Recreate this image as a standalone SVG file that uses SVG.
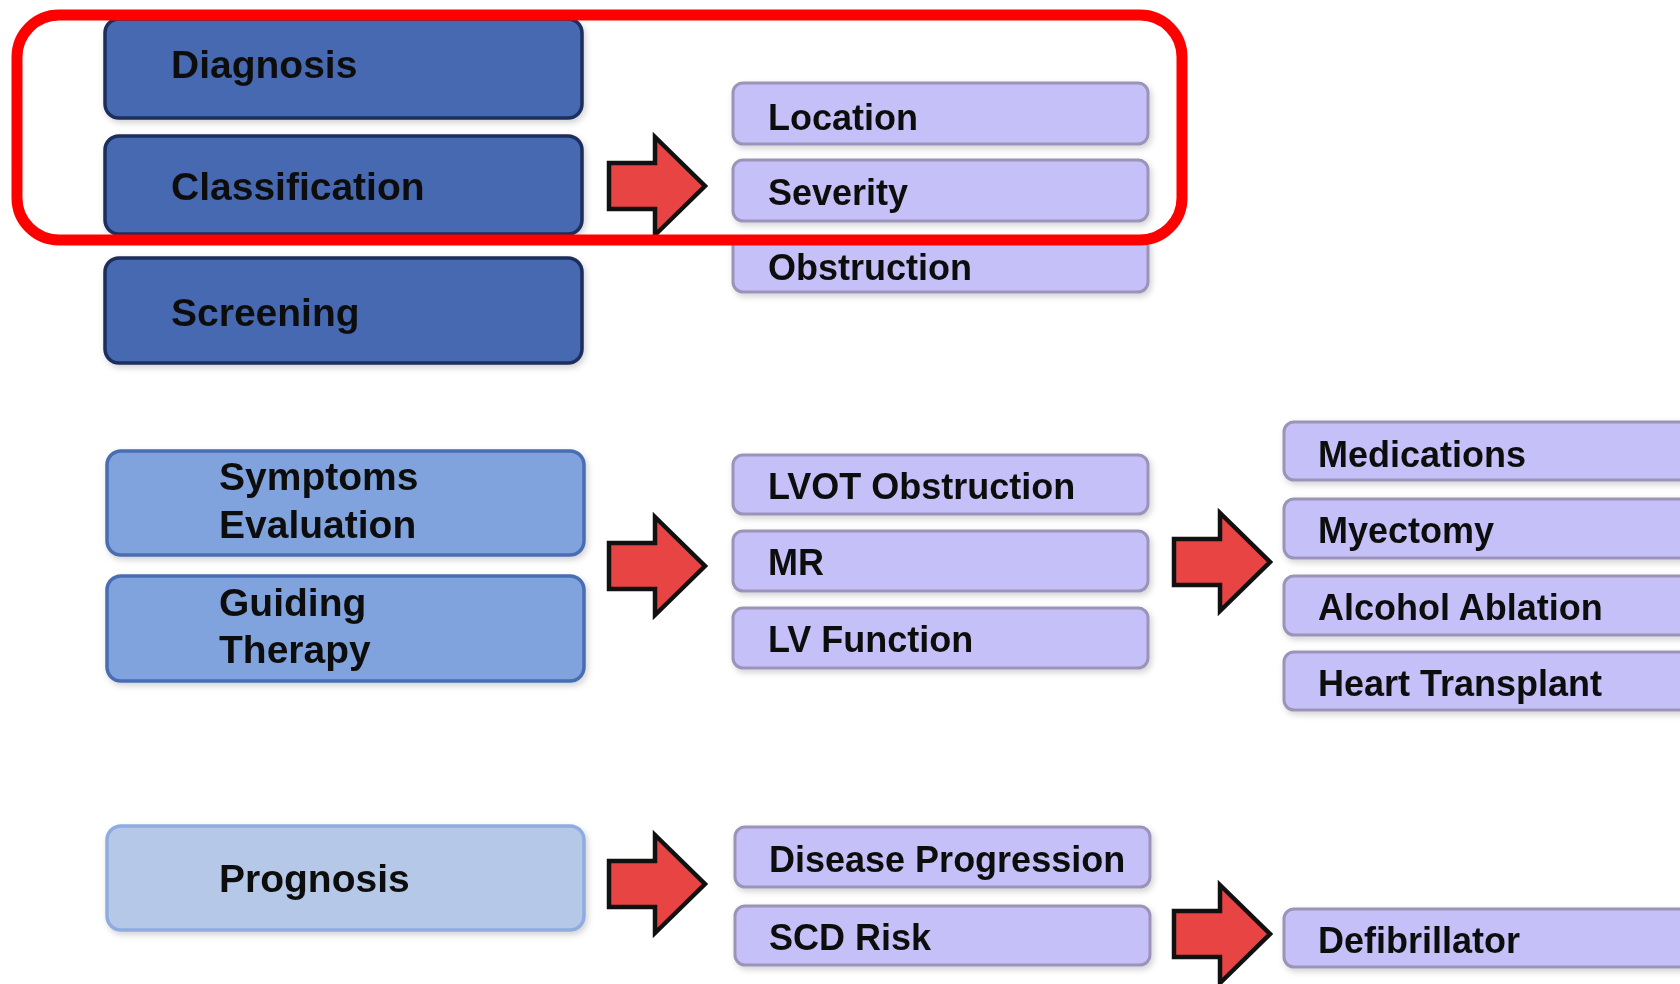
<svg xmlns="http://www.w3.org/2000/svg" width="1680" height="984" viewBox="0 0 1680 984">
<defs>
<style>
.t{font-family:"Liberation Sans",Arial,sans-serif;font-weight:bold;fill:#111;}
.big{font-size:39px;}
.sm{font-size:36px;}
.dark{fill:#4669b1;stroke:#1d2f5c;stroke-width:3.5;}
.mid{fill:#80a3dd;stroke:#4a6db3;stroke-width:3.5;}
.light{fill:#b6c8e7;stroke:#8eace0;stroke-width:3.5;}
.pur{fill:#c6c0f8;stroke:#9b93b8;stroke-width:3;}
.arr{fill:#e94444;stroke:#111;stroke-width:4.5;stroke-linejoin:miter;}
</style>
<filter id="sh" x="-5%" y="-10%" width="110%" height="130%">
<feDropShadow dx="2" dy="3" stdDeviation="3" flood-color="#000" flood-opacity="0.18"/>
</filter>
<path id="arrow" d="M0,-23 H46 V-49 L96,0 L46,49 V23 H0 Z"/>
</defs>
<rect width="1680" height="984" fill="#fff"/>

<g id="diagnosis" filter="url(#sh)">
<rect class="dark" x="105" y="19" width="477" height="99" rx="14"/>
<text class="t big" x="171" y="78">Diagnosis</text>
</g>
<g id="classification" filter="url(#sh)">
<rect class="dark" x="105" y="136" width="477" height="98" rx="14"/>
<text class="t big" x="171" y="200">Classification</text>
</g>
<g id="screening" filter="url(#sh)">
<rect class="dark" x="105" y="258" width="477" height="105" rx="14"/>
<text class="t big" x="171" y="326">Screening</text>
</g>

<g id="symptoms" filter="url(#sh)">
<rect class="mid" x="107" y="451" width="477" height="104" rx="14"/>
<text class="t big" x="219" y="490">Symptoms</text>
<text class="t big" x="219" y="538">Evaluation</text>
</g>
<g id="guiding" filter="url(#sh)">
<rect class="mid" x="107" y="576" width="477" height="105" rx="14"/>
<text class="t big" x="219" y="616">Guiding</text>
<text class="t big" x="219" y="663">Therapy</text>
</g>
<g id="prognosis" filter="url(#sh)">
<rect class="light" x="107" y="826" width="477" height="104" rx="14"/>
<text class="t big" x="219" y="892">Prognosis</text>
</g>

<g id="location" filter="url(#sh)">
<rect class="pur" x="733" y="83" width="415" height="61" rx="10"/>
<text class="t sm" x="768" y="130">Location</text>
</g>
<g id="severity" filter="url(#sh)">
<rect class="pur" x="733" y="160" width="415" height="61" rx="10"/>
<text class="t sm" x="768" y="205">Severity</text>
</g>
<g id="obstruction" filter="url(#sh)">
<rect class="pur" x="733" y="237" width="415" height="55" rx="10"/>
<text class="t sm" x="768" y="280">Obstruction</text>
</g>

<g id="lvot" filter="url(#sh)">
<rect class="pur" x="733" y="455" width="415" height="59" rx="10"/>
<text class="t sm" x="768" y="499">LVOT Obstruction</text>
</g>
<g id="mr" filter="url(#sh)">
<rect class="pur" x="733" y="531" width="415" height="60" rx="10"/>
<text class="t sm" x="768" y="575">MR</text>
</g>
<g id="lvfunction" filter="url(#sh)">
<rect class="pur" x="733" y="608" width="415" height="60" rx="10"/>
<text class="t sm" x="768" y="652">LV Function</text>
</g>

<g id="medications" filter="url(#sh)">
<rect class="pur" x="1284" y="422" width="420" height="58" rx="10"/>
<text class="t sm" x="1318" y="467">Medications</text>
</g>
<g id="myectomy" filter="url(#sh)">
<rect class="pur" x="1284" y="499" width="420" height="59" rx="10"/>
<text class="t sm" x="1318" y="543">Myectomy</text>
</g>
<g id="alcohol" filter="url(#sh)">
<rect class="pur" x="1284" y="576" width="420" height="59" rx="10"/>
<text class="t sm" x="1318" y="620">Alcohol Ablation</text>
</g>
<g id="transplant" filter="url(#sh)">
<rect class="pur" x="1284" y="652" width="420" height="58" rx="10"/>
<text class="t sm" x="1318" y="696">Heart Transplant</text>
</g>

<g id="progression" filter="url(#sh)">
<rect class="pur" x="735" y="827" width="415" height="60" rx="10"/>
<text class="t sm" x="769" y="872">Disease Progression</text>
</g>
<g id="scdrisk" filter="url(#sh)">
<rect class="pur" x="735" y="906" width="415" height="59" rx="10"/>
<text class="t sm" x="769" y="950">SCD Risk</text>
</g>
<g id="defibrillator" filter="url(#sh)">
<rect class="pur" x="1284" y="909" width="420" height="58" rx="10"/>
<text class="t sm" x="1318" y="953">Defibrillator</text>
</g>

<g id="connectors">
<use href="#arrow" class="arr" transform="translate(609,186)"/>
<use href="#arrow" class="arr" transform="translate(609,566)"/>
<use href="#arrow" class="arr" transform="translate(1174,562)"/>
<use href="#arrow" class="arr" transform="translate(609,884)"/>
<use href="#arrow" class="arr" transform="translate(1174,934)"/>
</g>

<rect id="highlight" x="17" y="15" width="1165" height="225" rx="42" fill="none" stroke="#ff0000" stroke-width="11"/>
</svg>
